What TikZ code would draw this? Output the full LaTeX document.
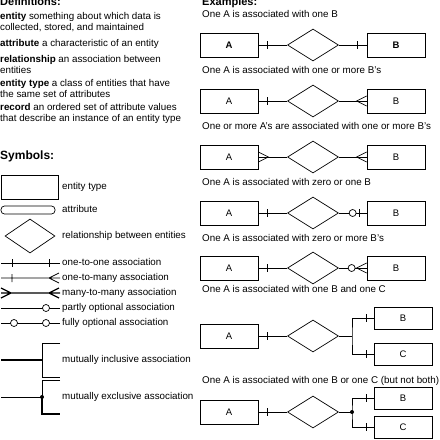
\documentclass[tikz,border=0pt]{standalone}
\usepackage{fontspec}
\setmainfont{Liberation Sans}
\usetikzlibrary{shapes.geometric,positioning,calc,shadows}

\begin{document}
\begin{tikzpicture}[x=1pt, y=-1pt,
    txt/.style={anchor=west, inner sep=0pt, font=\fontsize{9.8}{11}\selectfont, text height=7pt, text depth=2pt},
    head/.style={anchor=base west, inner sep=0pt, font=\fontsize{11}{13}\selectfont\bfseries},
    ent/.style={rectangle, draw, fill=white, line width=0.7pt, minimum width=58pt, minimum height=24pt, inner sep=0pt,
        font=\fontsize{9.5}{11}\selectfont, drop shadow={shadow xshift=0.8pt, shadow yshift=-0.8pt, fill=black!80, opacity=1}},
    attr/.style={rectangle, draw, rounded corners=3.5pt, line width=0.7pt, minimum width=54pt, minimum height=8pt, inner sep=0pt},
    rel/.style={diamond, draw, line width=0.7pt, minimum width=51pt, minimum height=32pt, inner sep=0pt},
    link/.style={line width=0.7pt},
    heavy/.style={line width=1.2pt},
    ring/.style={circle, draw, fill=white, line width=0.7pt, minimum size=7pt, inner sep=0pt}
]
    \useasboundingbox (0,0) rectangle (440,440);

    % definitions
    \node[head] (defs) at (0,5) {Definitions:};
    \node[txt] (d1) at (0,17) {\textbf{entity} something about which data is};
    \node[txt] (d1b) at (0,28) {collected, stored, and maintained};
    \node[txt] (d2) at (0,44) {\textbf{attribute} a characteristic of an entity};
    \node[txt] (d3) at (0,60) {\textbf{relationship} an association between};
    \node[txt] (d3b) at (0,71) {entities};
    \node[txt] (d4) at (0,84) {\textbf{entity type} a class of entities that have};
    \node[txt] (d4b) at (0,95) {the same set of attributes};
    \node[txt] (d5) at (0,108) {\textbf{record} an ordered set of attribute values};
    \node[txt] (d5b) at (0,119) {that describe an instance of an entity type};

    % symbols
    \node[head, font=\fontsize{12}{14}\selectfont\bfseries] (syms) at (0,159) {Symbols:};
    \node[ent, minimum width=57pt] (s1) at (29.5,187) {};
    \node[txt] at (62,187) {entity type};
    \node[attr] (s2) at (28,210) {};
    \node[txt] at (62,210) {attribute};
    \node[rel, minimum width=50pt, minimum height=34pt] (s3) at (30,236) {};
    \node[txt] at (62,236) {relationship between entities};

    \draw[link] (1,263) -- (60,263) (12,259) -- (12,267) (49,259) -- (49,267);
    \node[txt] at (62,263) {one-to-one association};
    \draw[link] (1,278) -- (60,278) (12,274) -- (12,282) (59,273) -- (49,278) -- (59,283);
    \node[txt] at (62,278) {one-to-many association};
    \draw[heavy] (1,293) -- (60,293) (1,288) -- (11,293) -- (1,298) (59,288) -- (49,293) -- (59,298);
    \node[txt] at (62,293) {many-to-many association};
    \draw[link] (1,308) -- (60,308);
    \node[ring] at (46,308) {};
    \node[txt] at (62,308) {partly optional association};
    \draw[link] (1,323) -- (60,323);
    \node[ring] at (14,323) {};
    \node[ring] at (46,323) {};
    \node[txt] at (62,323) {fully optional association};
    \draw[heavy] (1,360) -- (42,360);
    \draw[link] (60,343) -- (42,343) -- (42,377) -- (60,377);
    \node[txt] at (62,360) {mutually inclusive association};
    \draw[link] (1,397) -- (42,397);
    \draw[link] (60,380) -- (42,380) -- (42,397);
    \draw[heavy] (42,397) -- (42,414) -- (60,414);
    \fill (42,397) circle (2pt);
    \node[txt] at (62,397) {mutually exclusive association};

    % examples
    \node[head] (exs) at (202,5) {Examples:};

    \node[txt] (c1) at (202,15) {One A is associated with one B};
    \node[ent, font=\fontsize{9.5}{11}\selectfont\bfseries] (a1) at (229,45) {A};
    \node[rel] (r1) at (313,45) {};
    \node[ent, font=\fontsize{9.5}{11}\selectfont\bfseries] (b1) at (396,45) {B};
    \draw[link] (a1.east) -- (r1.west);
    \draw[link] (r1.east) -- (b1.west);
    \draw[link] ($(a1.east)+(9,-4)$) -- ++(0,8);
    \draw[link] ($(b1.west)+(-9,-4)$) -- ++(0,8);

    \node[txt] (c2) at (202,71) {One A is associated with one or more B's};
    \node[ent] (a2) at (229,101) {A};
    \node[rel] (r2) at (313,101) {};
    \node[ent] (b2) at (396,101) {B};
    \draw[link] (a2.east) -- (r2.west);
    \draw[link] (r2.east) -- (b2.west);
    \draw[link] ($(a2.east)+(9,-4)$) -- ++(0,8);
    \draw[link] ($(b2.west)+(0,-5)$) -- ($(b2.west)+(-10,0)$) -- ($(b2.west)+(0,5)$);

    \node[txt] (c3) at (202,127) {One or more A's are associated with one or more B's};
    \node[ent] (a3) at (229,157) {A};
    \node[rel] (r3) at (313,157) {};
    \node[ent] (b3) at (396,157) {B};
    \draw[link] (a3.east) -- (r3.west);
    \draw[link] (r3.east) -- (b3.west);
    \draw[link] ($(a3.east)+(0,-5)$) -- ($(a3.east)+(10,0)$) -- ($(a3.east)+(0,5)$);
    \draw[link] ($(b3.west)+(0,-5)$) -- ($(b3.west)+(-10,0)$) -- ($(b3.west)+(0,5)$);

    \node[txt] (c4) at (202,183) {One A is associated with zero or one B};
    \node[ent] (a4) at (229,213) {A};
    \node[rel] (r4) at (313,213) {};
    \node[ent] (b4) at (396,213) {B};
    \draw[link] (a4.east) -- (r4.west);
    \draw[link] (r4.east) -- (b4.west);
    \draw[link] ($(a4.east)+(9,-4)$) -- ++(0,8);
    \draw[link] ($(b4.west)+(-7,-4)$) -- ++(0,8);
    \node[ring] (o4) at ($(b4.west)+(-14,0)$) {};

    \node[txt] (c5) at (202,239) {One A is associated with zero or more B's};
    \node[ent] (a5) at (229,268) {A};
    \node[rel] (r5) at (313,268) {};
    \node[ent] (b5) at (396,268) {B};
    \draw[link] (a5.east) -- (r5.west);
    \draw[link] (r5.east) -- (b5.west);
    \draw[link] ($(a5.east)+(9,-4)$) -- ++(0,8);
    \draw[link] ($(b5.west)+(0,-5)$) -- ($(b5.west)+(-10,0)$) -- ($(b5.west)+(0,5)$);
    \node[ring] (o5) at ($(b5.west)+(-15,0)$) {};

    \node[txt] (c6) at (202,290) {One A is associated with one B and one C};
    \node[ent] (a6) at (229,336) {A};
    \node[rel] (r6) at (313,336) {};
    \coordinate (j6) at (352,336);
    \node[ent, minimum height=22pt] (b6) at (403,318) {B};
    \node[ent, minimum height=22pt] (c6b) at (403,354) {C};
    \draw[link] (a6.east) -- (r6.west);
    \draw[link] (r6.east) -- (j6);
    \draw[link] (b6.west) -| (j6) |- (c6b.west);
    \draw[link] ($(a6.east)+(9,-4)$) -- ++(0,8);
    \draw[link] ($(b6.west)+(-7,-4)$) -- ++(0,8);
    \draw[link] ($(c6b.west)+(-7,-4)$) -- ++(0,8);

    \node[txt] (c7) at (202,381) {One A is associated with one B or one C (but not both)};
    \node[ent] (a7) at (229,412) {A};
    \node[rel] (r7) at (313,412) {};
    \coordinate (j7) at (352,412);
    \node[ent, minimum height=22pt] (b7) at (403,398) {B};
    \node[ent, minimum height=22pt] (c7b) at (403,427) {C};
    \draw[link] (a7.east) -- (r7.west);
    \draw[link] (r7.east) -- (j7);
    \draw[link] (b7.west) -| (j7) |- (c7b.west);
    \fill (j7) circle (2pt);
    \draw[link] ($(a7.east)+(9,-4)$) -- ++(0,8);
    \draw[link] ($(b7.west)+(-7,-4)$) -- ++(0,8);
    \draw[link] ($(c7b.west)+(-7,-4)$) -- ++(0,8);
\end{tikzpicture}
\end{document}
